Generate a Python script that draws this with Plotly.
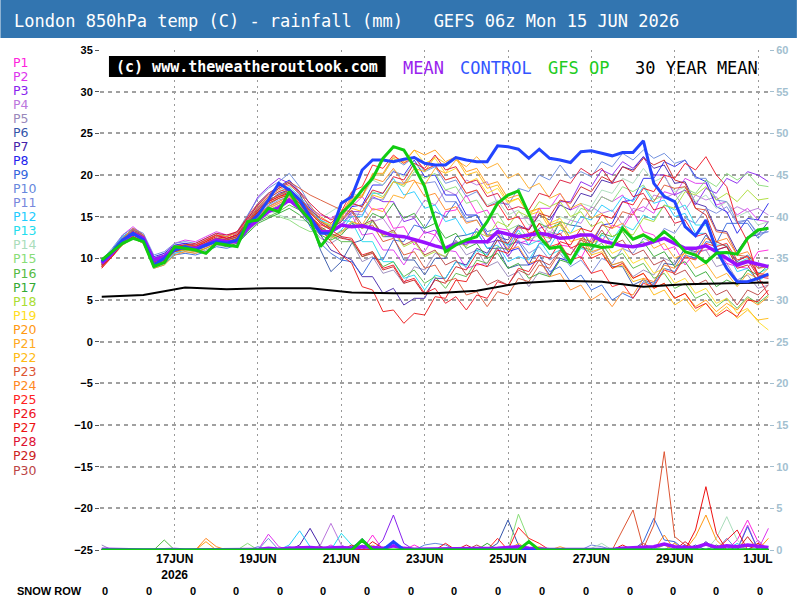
import plotly.graph_objects as go
import pandas as pd

# ---------------- data ----------------
run_start = "2026-06-15 06:00"
n_steps = 65
times = pd.date_range(run_start, periods=n_steps, freq="6h")
clim_times = pd.date_range(run_start, periods=17, freq="1D")

mean_temp = [9.4, 10.6, 12.0, 13.0, 12.4, 9.8, 10.2, 11.2,
             11.2, 11.2, 11.6, 12.2, 12.0, 12.0, 13.6, 14.6,
             15.6, 16.1, 17.0, 16.0, 14.6, 13.2, 13.2, 14.0,
             13.8, 13.9, 13.6, 13.2, 12.7, 12.6, 12.3, 11.9,
             11.5, 11.2, 11.7, 12.0, 12.0, 12.0, 13.2, 12.9,
             12.6, 12.8, 13.0, 12.8, 12.4, 12.5, 12.8, 12.8,
             12.1, 11.8, 11.5, 11.4, 11.6, 12.0, 12.4, 11.8,
             11.2, 11.2, 11.5, 10.8, 10.0, 9.2, 9.6, 9.3, 9.0]

control_temp = [9.6, 10.8, 12.2, 13.0, 12.2, 9.2, 10.0, 11.0,
                11.4, 11.0, 11.6, 12.0, 11.8, 12.2, 14.0, 15.2,
                17.0, 19.0, 18.2, 17.0, 15.0, 13.0, 13.0, 16.6,
                17.4, 20.6, 21.8, 21.8, 21.6, 21.9, 22.1, 21.4,
                21.2, 21.2, 22.1, 21.8, 21.6, 21.6, 23.5, 23.4,
                23.1, 22.0, 23.1, 22.0, 21.8, 21.5, 22.8, 22.9,
                22.6, 22.3, 22.7, 22.7, 24.1, 19.0, 17.4, 16.8,
                13.8, 12.7, 14.6, 11.0, 8.8, 7.2, 7.2, 7.6, 8.1]

gfs_op_temp = [9.8, 10.8, 11.8, 12.4, 12.0, 9.0, 9.5, 11.4,
               11.2, 11.0, 10.6, 11.8, 11.6, 11.4, 14.4, 14.6,
               16.0, 15.6, 18.0, 16.0, 14.6, 11.4, 13.0, 15.4,
               16.6, 18.2, 19.6, 22.0, 23.4, 23.0, 21.0, 18.6,
               14.5, 10.8, 11.6, 12.2, 12.6, 14.4, 16.6, 17.6,
               18.1, 15.4, 12.6, 11.2, 11.4, 9.5, 11.7, 11.6,
               11.3, 11.4, 13.6, 12.3, 12.8, 12.1, 13.2, 12.2,
               10.8, 10.4, 9.5, 10.6, 10.7, 10.5, 12.4, 13.4, 13.6]

clim_temp = [5.4, 5.6, 6.5, 6.3, 6.4, 6.4, 5.9, 5.8, 5.8,
             6.1, 7.0, 7.3, 7.2, 6.6, 6.9, 7.0, 7.1]

p01 = [9.0, 10.5, 12.3, 13.5, 12.6, 9.6, 10.4, 11.5, 11.8, 11.4, 12.0, 12.8, 12.2, 12.6, 14.2, 15.0,
       16.0, 16.6, 17.2, 16.4, 15.0, 14.0, 13.6, 14.6, 16.2, 17.4, 15.8, 16.0, 13.6, 13.8, 11.6, 13.2,
       12.8, 15.6, 15.8, 17.6, 15.4, 15.8, 13.6, 13.4, 11.8, 12.2, 12.0, 14.2, 11.6, 11.4, 10.0, 12.4,
       12.0, 14.0, 13.6, 15.6, 13.2, 12.8, 11.0, 11.4, 9.2, 10.8, 11.0, 11.2, 9.4, 9.0, 8.8, 10.8, 11.0]
p02 = [9.6, 11.0, 12.8, 13.8, 12.8, 10.0, 10.6, 11.8, 12.2, 12.0, 12.6, 13.2, 12.8, 13.0, 14.8, 16.0,
       17.0, 17.6, 18.4, 17.2, 16.0, 15.2, 14.8, 15.6, 15.2, 12.8, 13.0, 11.0, 11.0, 9.2, 11.2, 10.8,
       12.8, 11.0, 10.8, 8.8, 9.2, 9.4, 11.2, 11.2, 13.6, 13.6, 16.0, 16.0, 17.8, 15.8, 16.4, 15.6,
       17.4, 16.8, 17.6, 15.6, 16.2, 15.4, 18.0, 17.6, 19.6, 19.0, 19.0, 16.4, 16.8, 15.2, 16.0, 14.6, 14.4]
p03 = [9.4, 10.6, 12.0, 12.8, 12.4, 9.6, 10.0, 11.0, 11.4, 11.6, 12.0, 12.4, 12.2, 13.0, 15.0, 17.4,
       18.6, 19.6, 19.0, 17.6, 15.6, 14.2, 13.4, 14.0, 15.6, 15.6, 17.4, 16.8, 16.8, 14.4, 14.8, 13.0,
       13.4, 11.4, 12.0, 11.6, 13.6, 11.8, 12.2, 10.2, 12.0, 11.6, 13.6, 14.0, 16.8, 16.8, 19.2, 18.6,
       20.6, 20.0, 21.6, 20.8, 22.2, 20.0, 20.0, 17.6, 18.2, 16.4, 18.4, 17.8, 19.6, 19.0, 20.4, 20.0, 19.2]
p04 = [9.2, 10.4, 11.8, 12.8, 12.0, 9.4, 9.8, 10.8, 11.2, 11.0, 11.4, 12.0, 11.8, 12.4, 14.0, 15.4,
       16.2, 16.8, 17.6, 16.6, 15.2, 13.6, 12.6, 13.2, 13.8, 16.2, 14.4, 14.8, 13.0, 15.0, 15.0, 17.0,
       16.4, 18.2, 17.6, 19.4, 18.8, 19.2, 16.6, 16.6, 14.8, 14.8, 12.4, 13.2, 12.8, 14.6, 14.2, 16.2,
       15.4, 15.8, 14.0, 16.0, 15.6, 17.6, 17.2, 17.8, 15.8, 17.6, 17.0, 17.4, 15.4, 16.2, 15.6, 16.0, 15.2]
p05 = [9.0, 10.2, 11.6, 12.4, 11.8, 9.2, 9.6, 10.6, 10.8, 10.6, 11.0, 11.6, 11.4, 11.8, 13.4, 14.8,
       15.6, 16.2, 16.8, 15.8, 14.0, 12.4, 11.8, 12.6, 12.0, 9.6, 10.2, 8.2, 8.6, 7.0, 9.0, 8.6,
       10.6, 10.2, 12.2, 10.4, 11.0, 9.0, 9.6, 7.8, 8.4, 6.6, 8.4, 8.0, 10.0, 9.6, 11.4, 10.6,
       11.2, 9.2, 9.6, 7.8, 8.6, 8.0, 10.0, 9.4, 11.2, 10.6, 11.0, 9.0, 9.4, 7.4, 8.0, 6.4, 6.8]
p06 = [9.6, 10.8, 12.2, 13.2, 12.6, 10.0, 10.4, 11.4, 11.6, 11.2, 11.8, 12.4, 12.0, 12.4, 14.4, 16.2,
       17.4, 18.4, 19.2, 17.8, 14.6, 11.0, 8.4, 9.6, 11.8, 12.2, 14.6, 12.6, 12.6, 9.8, 9.8, 8.0,
       10.0, 10.0, 12.6, 12.8, 13.2, 11.2, 11.2, 8.8, 9.2, 9.2, 11.8, 12.0, 14.4, 14.0, 13.8, 11.4,
       11.4, 9.0, 9.0, 6.8, 7.4, 7.0, 9.4, 9.2, 11.2, 10.8, 12.8, 11.0, 11.4, 9.6, 10.4, 8.8, 9.2]
p07 = [9.2, 10.6, 12.4, 13.6, 12.8, 9.8, 10.2, 11.2, 11.4, 11.2, 11.6, 12.0, 11.8, 12.2, 13.8, 15.6,
       16.8, 17.8, 18.2, 16.8, 14.6, 12.8, 11.0, 10.4, 9.8, 7.8, 7.8, 5.8, 6.4, 4.4, 5.2, 5.2,
       7.6, 7.6, 9.6, 9.2, 11.2, 10.6, 12.6, 12.2, 14.0, 13.4, 15.2, 14.6, 16.4, 15.8, 17.8, 17.4,
       19.4, 19.0, 21.0, 20.6, 22.2, 20.8, 21.2, 19.0, 19.2, 16.6, 16.2, 13.4, 13.2, 10.8, 12.6, 12.8, 14.4]
p08 = [9.8, 11.0, 12.6, 13.4, 12.8, 10.2, 10.6, 11.6, 11.8, 11.6, 12.2, 12.8, 12.4, 12.8, 14.6, 16.6,
       17.8, 18.6, 19.4, 18.0, 16.0, 14.6, 13.6, 14.4, 16.2, 16.4, 18.8, 18.8, 20.4, 20.0, 21.8, 19.8,
       20.0, 17.6, 17.6, 15.2, 15.2, 12.8, 12.8, 10.8, 11.2, 9.2, 9.8, 8.0, 10.0, 9.6, 11.6, 11.6,
       14.0, 14.2, 16.8, 17.0, 19.6, 19.6, 21.6, 21.0, 21.8, 19.8, 19.2, 16.2, 15.6, 13.0, 14.8, 14.6, 16.6]
p09 = [9.4, 10.4, 11.8, 12.6, 12.0, 9.0, 9.4, 10.4, 10.6, 10.4, 10.8, 11.4, 11.2, 11.6, 13.2, 15.0,
       16.4, 17.2, 17.8, 16.2, 13.8, 11.8, 10.6, 9.8, 9.6, 8.0, 10.0, 9.8, 12.2, 12.0, 14.0, 13.6,
       15.6, 15.0, 16.8, 14.8, 15.2, 13.2, 13.6, 11.6, 12.0, 10.0, 10.4, 8.4, 9.0, 7.2, 8.0, 6.2,
       6.8, 5.0, 5.8, 5.2, 7.2, 6.8, 8.8, 8.4, 10.4, 10.0, 12.0, 11.8, 14.2, 14.2, 14.2, 12.4, 13.6]
p10 = [9.8, 11.2, 12.8, 13.6, 13.0, 10.4, 10.8, 11.8, 12.0, 11.8, 12.4, 13.0, 12.6, 13.2, 15.2, 17.2,
       18.4, 19.2, 20.2, 18.6, 16.4, 14.6, 13.8, 15.0, 17.2, 17.4, 20.0, 20.0, 22.0, 21.2, 22.2, 20.4,
       21.0, 19.0, 19.4, 17.4, 18.0, 16.2, 16.8, 16.4, 18.4, 18.0, 20.0, 19.4, 21.2, 19.6, 20.4, 19.8,
       21.6, 21.0, 22.6, 21.8, 23.0, 22.0, 22.6, 21.4, 21.8, 19.6, 19.6, 17.0, 16.8, 14.4, 14.6, 13.0, 13.2]
p11 = [9.4, 10.8, 12.4, 13.2, 12.6, 9.6, 10.0, 11.0, 11.2, 11.0, 11.4, 12.0, 11.6, 12.0, 13.6, 15.2,
       16.2, 17.0, 17.4, 16.2, 14.8, 13.6, 13.0, 13.8, 15.4, 15.2, 17.2, 17.0, 19.2, 19.0, 20.8, 19.0,
       19.2, 16.8, 16.8, 14.4, 14.6, 12.6, 13.2, 11.4, 12.2, 10.6, 11.4, 9.8, 10.6, 9.0, 9.8, 8.2,
       10.0, 9.4, 11.2, 10.6, 12.4, 11.8, 13.6, 13.0, 14.8, 14.2, 16.0, 15.4, 16.2, 14.2, 14.6, 12.8, 13.2]
p12 = [9.2, 10.6, 12.0, 13.2, 12.2, 8.8, 9.2, 10.6, 11.0, 11.2, 11.8, 12.2, 12.0, 12.4, 14.2, 15.8,
       17.0, 17.6, 18.0, 16.6, 14.6, 13.2, 12.4, 13.4, 15.0, 15.0, 17.8, 17.8, 19.6, 17.6, 18.0, 16.0,
       16.4, 14.4, 14.8, 12.8, 13.2, 11.2, 11.6, 9.6, 10.2, 9.8, 11.8, 11.4, 13.4, 13.0, 15.0, 14.6,
       16.4, 15.6, 17.4, 16.8, 18.6, 16.6, 17.0, 15.0, 15.4, 13.0, 13.0, 10.8, 10.8, 8.4, 8.8, 7.2, 8.2]
p13 = [9.6, 11.0, 12.6, 13.4, 12.6, 9.8, 10.2, 11.2, 11.4, 11.2, 11.8, 12.4, 12.2, 12.6, 14.4, 16.0,
       17.2, 18.0, 18.6, 17.4, 15.8, 14.6, 14.0, 14.6, 14.4, 12.0, 12.0, 9.6, 9.6, 7.6, 8.0, 6.2,
       8.0, 7.6, 9.6, 9.0, 11.0, 10.4, 12.2, 11.6, 13.4, 11.6, 12.2, 10.4, 11.0, 9.2, 11.2, 10.8,
       12.8, 12.2, 14.0, 13.4, 15.2, 14.6, 16.4, 15.8, 16.4, 14.0, 14.0, 11.6, 11.6, 9.4, 10.0, 8.2, 8.8]
p14 = [9.4, 10.6, 12.0, 12.8, 12.2, 9.4, 9.8, 11.2, 11.4, 11.6, 12.0, 12.6, 12.2, 12.6, 14.0, 15.0,
       15.8, 15.2, 14.8, 14.6, 14.4, 14.8, 15.6, 16.4, 17.8, 17.4, 19.4, 18.8, 20.6, 19.8, 21.4, 20.4,
       21.2, 19.4, 19.8, 17.8, 18.2, 16.4, 17.0, 15.2, 15.8, 14.0, 14.6, 13.0, 15.0, 14.6, 16.6, 16.2,
       18.2, 17.8, 19.6, 19.0, 20.8, 19.2, 19.8, 18.0, 18.6, 16.8, 17.6, 16.0, 16.8, 15.0, 15.6, 14.0, 14.4]
p15 = [9.6, 10.8, 12.2, 13.0, 12.4, 9.6, 10.0, 11.4, 11.6, 11.4, 11.8, 12.4, 12.0, 12.4, 13.4, 14.6,
       15.2, 15.0, 14.6, 13.8, 13.2, 13.4, 14.0, 15.0, 16.6, 16.2, 18.0, 17.4, 19.2, 18.6, 20.4, 19.6,
       20.2, 18.2, 18.6, 16.6, 17.0, 15.0, 15.4, 13.4, 14.0, 12.2, 12.8, 12.4, 14.4, 14.0, 16.0, 15.6,
       17.4, 16.8, 18.6, 18.0, 18.8, 17.0, 17.6, 16.8, 18.4, 17.8, 19.4, 18.6, 20.2, 19.4, 20.2, 18.8, 18.6]
p16 = [9.8, 11.0, 12.4, 13.2, 12.4, 9.8, 10.2, 11.4, 11.6, 11.4, 11.8, 12.2, 11.8, 12.0, 13.2, 14.4,
       15.0, 15.6, 16.4, 15.8, 14.6, 13.6, 12.8, 12.0, 12.0, 10.2, 10.8, 9.0, 9.6, 7.8, 8.6, 7.0,
       7.8, 6.4, 8.2, 7.8, 9.8, 9.4, 11.4, 11.0, 13.0, 12.4, 14.2, 13.6, 14.2, 12.4, 13.0, 11.2,
       11.8, 10.0, 10.6, 8.8, 9.4, 7.6, 8.2, 6.4, 7.0, 5.2, 5.8, 4.2, 5.2, 4.0, 5.4, 4.6, 5.6]
p17 = [9.2, 10.4, 11.8, 12.6, 12.0, 9.2, 9.6, 10.8, 11.0, 10.8, 11.2, 11.8, 11.4, 11.8, 13.0, 14.2,
       14.8, 15.4, 16.0, 15.2, 14.0, 12.8, 12.2, 12.8, 14.2, 13.6, 15.4, 14.8, 16.6, 14.8, 15.4, 13.6,
       14.2, 12.4, 13.0, 11.2, 11.8, 10.0, 10.6, 8.8, 9.4, 7.6, 8.2, 7.8, 9.8, 9.4, 11.4, 11.0,
       13.0, 12.6, 13.2, 11.4, 12.0, 10.2, 10.8, 9.0, 9.6, 7.8, 8.4, 6.6, 7.4, 6.8, 8.6, 8.0, 9.2]
p18 = [9.6, 10.8, 12.2, 13.0, 12.4, 9.6, 10.0, 11.2, 11.4, 11.2, 11.6, 12.0, 11.8, 12.2, 13.6, 15.0,
       15.8, 16.4, 17.0, 16.0, 14.8, 13.4, 12.6, 13.2, 14.4, 13.8, 14.4, 12.6, 13.2, 11.4, 12.0, 10.2,
       10.8, 10.2, 12.0, 11.4, 13.2, 12.6, 14.4, 13.8, 15.6, 15.0, 16.8, 16.2, 16.8, 15.0, 15.6, 13.8,
       14.4, 12.6, 13.2, 12.8, 14.8, 14.4, 16.4, 16.0, 18.0, 17.6, 18.6, 17.0, 17.8, 16.8, 18.2, 17.0, 17.2]
p19 = [9.4, 10.6, 12.0, 13.0, 12.4, 9.4, 9.8, 11.0, 11.2, 11.0, 11.6, 12.2, 12.0, 12.4, 14.0, 15.6,
       16.6, 17.2, 17.8, 16.8, 15.4, 14.4, 14.0, 15.2, 17.2, 17.4, 20.0, 20.0, 22.0, 21.4, 23.0, 21.4,
       22.0, 20.2, 20.8, 19.0, 19.6, 17.8, 18.4, 16.6, 17.2, 15.4, 16.0, 14.2, 14.8, 13.0, 13.6, 11.8,
       12.4, 10.6, 11.2, 9.4, 10.0, 8.2, 8.8, 7.0, 7.6, 5.8, 6.4, 4.6, 5.2, 3.4, 4.0, 2.4, 1.4]
p20 = [9.0, 10.2, 11.6, 12.4, 11.8, 8.8, 9.2, 10.4, 10.8, 10.6, 11.2, 11.8, 11.6, 12.0, 13.6, 15.2,
       16.2, 16.8, 17.4, 16.4, 15.0, 14.0, 13.6, 14.8, 17.0, 17.4, 20.2, 20.2, 22.2, 21.6, 23.0, 22.4,
       23.0, 21.6, 22.2, 20.4, 20.8, 18.8, 19.2, 17.2, 17.6, 15.6, 16.0, 14.0, 14.4, 12.4, 12.8, 10.8,
       11.2, 9.2, 9.6, 7.6, 8.2, 6.4, 7.0, 5.2, 5.8, 4.2, 5.0, 3.6, 4.6, 3.8, 5.2, 4.4, 5.4]
p21 = [9.2, 10.4, 11.8, 12.8, 12.0, 9.2, 9.6, 10.8, 11.0, 10.8, 11.4, 12.0, 11.8, 12.2, 13.8, 15.2,
       16.0, 16.6, 17.2, 16.2, 14.8, 13.2, 12.4, 13.0, 14.4, 14.0, 16.0, 15.6, 17.6, 17.2, 19.2, 18.8,
       20.8, 20.2, 21.8, 21.0, 22.2, 20.8, 21.4, 19.6, 20.2, 18.4, 19.0, 17.2, 17.8, 16.0, 16.6, 14.8,
       15.4, 13.6, 14.2, 12.4, 13.0, 11.2, 11.8, 10.0, 10.6, 8.8, 9.4, 7.6, 8.2, 6.6, 8.2, 7.6, 8.8]
p22 = [9.6, 10.8, 12.4, 13.2, 12.6, 9.6, 10.0, 11.2, 11.4, 11.2, 11.8, 12.4, 12.2, 12.6, 14.2, 15.8,
       17.0, 17.6, 18.2, 17.0, 15.6, 14.4, 13.8, 14.6, 16.0, 15.6, 17.6, 17.2, 19.2, 18.8, 20.8, 20.4,
       22.2, 21.4, 22.0, 20.0, 20.4, 18.4, 18.8, 16.8, 17.2, 15.2, 15.6, 13.6, 14.0, 12.0, 12.4, 10.4,
       10.8, 8.8, 9.2, 7.2, 7.6, 5.6, 6.2, 4.4, 5.2, 3.6, 4.6, 3.2, 4.2, 2.8, 3.8, 2.6, 2.8]
p23 = [9.2, 10.6, 12.2, 13.4, 12.6, 9.4, 9.8, 11.0, 11.2, 11.4, 12.0, 12.8, 12.6, 13.2, 15.0, 16.6,
       17.8, 18.6, 19.2, 18.4, 17.6, 17.0, 16.4, 15.8, 15.6, 13.6, 14.0, 12.0, 12.4, 10.4, 10.8, 8.8,
       9.2, 7.2, 7.6, 5.6, 6.0, 4.2, 6.0, 5.6, 7.6, 7.2, 9.2, 8.8, 10.8, 10.4, 12.4, 12.0,
       14.0, 13.6, 15.6, 15.2, 17.2, 16.8, 18.8, 18.4, 18.6, 16.0, 15.8, 13.2, 13.0, 10.4, 10.2, 8.0, 7.8]
p24 = [9.4, 10.8, 12.4, 13.6, 12.8, 9.8, 10.2, 11.4, 11.6, 11.6, 12.2, 12.8, 12.6, 13.0, 14.6, 16.2,
       17.4, 18.2, 18.8, 17.8, 16.2, 15.0, 14.2, 15.4, 17.4, 17.6, 19.6, 19.2, 20.8, 19.0, 19.4, 17.4,
       17.8, 15.8, 16.2, 14.2, 14.6, 12.6, 13.0, 11.0, 11.4, 9.4, 9.8, 7.8, 8.2, 6.2, 6.8, 5.0,
       5.8, 4.2, 6.0, 5.6, 7.6, 7.2, 9.2, 8.8, 10.8, 10.4, 12.4, 12.0, 12.4, 10.4, 10.8, 8.8, 9.0]
p25 = [9.0, 10.2, 11.8, 12.8, 12.2, 9.4, 9.8, 11.0, 11.4, 11.6, 12.2, 12.8, 12.4, 12.8, 14.4, 16.0,
       17.2, 18.0, 18.4, 17.2, 15.8, 14.8, 14.2, 15.6, 18.0, 18.6, 21.2, 20.8, 22.4, 21.4, 22.2, 20.6,
       21.2, 19.4, 19.8, 17.8, 18.2, 16.2, 16.6, 14.6, 15.0, 13.0, 13.4, 11.4, 11.8, 9.8, 10.2, 8.2,
       8.6, 6.6, 7.0, 5.2, 7.0, 6.6, 8.6, 8.2, 10.2, 9.8, 11.8, 11.4, 11.8, 9.8, 10.2, 8.2, 8.0]
p26 = [9.2, 10.4, 12.0, 13.0, 12.4, 9.6, 10.0, 11.2, 11.4, 11.2, 11.8, 12.4, 12.2, 12.6, 14.0, 15.6,
       16.8, 17.4, 18.0, 17.0, 15.4, 14.2, 13.4, 12.6, 12.4, 10.4, 10.8, 8.8, 9.2, 7.2, 7.6, 5.8,
       6.4, 4.6, 5.4, 3.8, 5.6, 5.2, 7.2, 6.8, 8.8, 8.4, 10.4, 10.0, 12.0, 11.6, 13.6, 13.2,
       15.2, 14.8, 16.8, 16.4, 18.4, 18.0, 20.0, 19.6, 21.4, 20.6, 22.2, 20.0, 18.6, 14.4, 12.0, 7.8, 5.6]
p27 = [8.8, 10.2, 11.8, 12.6, 12.0, 9.2, 9.6, 10.8, 11.2, 11.4, 12.0, 12.6, 12.4, 12.8, 14.2, 15.8,
       16.8, 17.4, 17.8, 16.8, 15.2, 13.6, 12.0, 10.4, 9.4, 6.6, 6.2, 3.6, 3.8, 2.2, 3.4, 3.2,
       5.4, 5.2, 7.4, 7.2, 9.4, 9.0, 11.0, 10.6, 12.6, 12.2, 14.2, 12.4, 13.0, 11.2, 11.8, 10.0,
       10.6, 8.8, 9.4, 7.6, 8.2, 6.4, 7.0, 5.2, 5.8, 4.0, 4.6, 3.0, 3.8, 3.0, 5.0, 4.8, 6.2]
p28 = [9.4, 10.6, 12.2, 13.2, 12.6, 9.8, 10.2, 11.4, 11.6, 11.8, 12.4, 13.0, 12.8, 13.2, 14.8, 16.4,
       17.6, 18.4, 19.0, 18.0, 16.6, 15.4, 14.6, 15.2, 16.6, 16.2, 18.2, 17.8, 19.8, 19.4, 21.4, 20.8,
       22.4, 20.6, 21.0, 19.0, 19.4, 17.4, 17.8, 15.8, 16.2, 15.8, 17.8, 17.4, 19.4, 19.0, 20.8, 20.0,
       20.8, 19.0, 19.4, 17.4, 17.8, 15.8, 16.2, 14.2, 14.6, 12.6, 13.0, 11.0, 11.4, 9.4, 9.8, 7.8, 7.6]
p29 = [9.0, 10.4, 12.0, 13.2, 12.4, 9.4, 9.8, 11.0, 11.2, 11.0, 11.6, 12.2, 12.0, 12.4, 14.0, 15.6,
       16.6, 17.2, 17.6, 16.6, 15.0, 13.8, 13.0, 12.4, 12.2, 10.2, 10.6, 8.6, 9.0, 7.0, 7.4, 5.6,
       7.4, 7.0, 9.0, 8.6, 10.6, 10.2, 12.2, 11.8, 13.8, 13.4, 15.4, 15.0, 17.0, 16.6, 18.6, 18.0,
       19.8, 19.2, 21.0, 20.4, 22.0, 21.2, 21.8, 19.4, 19.0, 16.0, 15.2, 12.0, 11.4, 8.8, 9.2, 7.2, 7.0]
p30 = [9.2, 10.6, 12.2, 13.2, 12.4, 9.6, 10.0, 11.2, 11.4, 11.2, 11.8, 12.4, 12.2, 12.6, 14.2, 15.8,
       17.0, 17.6, 18.2, 17.2, 15.6, 14.4, 13.6, 14.4, 15.8, 14.0, 14.6, 12.8, 13.4, 11.6, 12.2, 10.4,
       11.0, 9.2, 9.8, 8.0, 8.6, 6.8, 7.4, 6.8, 8.6, 8.0, 9.8, 9.2, 11.0, 10.4, 12.2, 11.6,
       13.4, 11.6, 12.2, 10.4, 11.0, 9.2, 9.8, 8.0, 8.6, 6.8, 7.4, 5.6, 6.2, 4.4, 6.2, 5.6, 6.8]

member_temps = [p01, p02, p03, p04, p05, p06, p07, p08, p09, p10,
                p11, p12, p13, p14, p15, p16, p17, p18, p19, p20,
                p21, p22, p23, p24, p25, p26, p27, p28, p29, p30]

member_names = ["P%d" % k for k in range(1, 31)]
member_colors = ["#ff22dd", "#dd33ee", "#8822ee", "#bb77dd", "#9988bb",
                 "#3355aa", "#4422aa", "#2222ee", "#3366dd", "#6688dd",
                 "#7788dd", "#22ccff", "#22ddee", "#aaddbb", "#88dd77",
                 "#55bb44", "#33aa33", "#aadd33", "#ffdd22", "#ff9911",
                 "#ffaa22", "#ffbb11", "#dd5533", "#ff8822", "#ff2222",
                 "#ee1122", "#ee1111", "#dd1133", "#cc2222", "#bb4444"]

# rainfall (mm per 6 h) events: {step index: mm}, zero elsewhere
member_rain_events = [
    {26: 1.8, 30: 0.6, 61: 1.2, 62: 3.6, 63: 1.0},
    {16: 1.9, 17: 0.4, 22: 0.6, 62: 3.0, 64: 2.6},
    {27: 1.2, 28: 4.2, 29: 0.8, 60: 0.4},
    {21: 0.6, 22: 3.2, 23: 0.6, 63: 1.2},
    {0: 0.6, 18: 0.4, 55: 0.8},
    {38: 0.8, 39: 3.6, 40: 0.6, 57: 0.6},
    {19: 0.6, 20: 2.6, 21: 0.4, 58: 1.0},
    {24: 0.4, 25: 1.0, 56: 0.6},
    {52: 1.0, 53: 3.8, 54: 1.2, 55: 1.0, 62: 2.8},
    {15: 0.4, 31: 0.6, 32: 0.8, 33: 0.6, 60: 1.4},
    {16: 1.4, 47: 0.6, 48: 0.4},
    {18: 0.6, 19: 2.3, 20: 0.4, 61: 0.8},
    {23: 2.0, 24: 0.6, 64: 0.4},
    {47: 0.2, 48: 0.8, 59: 1.4, 60: 4.0, 61: 1.2},
    {14: 0.8, 40: 4.3, 41: 1.2},
    {6: 1.2, 25: 0.6},
    {37: 0.8, 59: 0.6},
    {54: 0.6, 63: 0.8},
    {26: 0.6, 61: 0.6},
    {10: 1.0, 57: 1.6, 58: 4.2, 59: 1.2, 64: 1.4},
    {40: 0.8, 44: 0.4, 55: 0.8},
    {42: 0.4, 63: 0.6},
    {50: 2.4, 51: 4.8, 52: 0.2, 53: 3.0, 54: 11.8, 55: 1.6, 56: 0.6},
    {10: 1.4, 11: 0.4, 54: 1.8},
    {23: 0.4, 38: 1.4, 40: 2.7, 41: 1.4, 42: 0.8},
    {19: 0.4, 26: 1.0, 27: 0.2, 33: 0.8, 60: 1.2, 61: 2.4},
    {17: 0.2, 50: 0.6, 57: 2.4, 58: 7.6, 59: 2.0, 63: 0.8},
    {21: 0.4, 35: 0.6, 56: 1.0},
    {24: 0.6, 62: 1.6},
    {36: 0.6, 52: 0.8},
]

mean_rain = [0.1, 0.05, 0, 0, 0, 0, 0.05, 0.05, 0, 0, 0.1, 0.05, 0, 0, 0.05, 0.05,
             0.2, 0.1, 0.2, 0.3, 0.3, 0.2, 0.3, 0.3, 0.2, 0.4, 0.3, 0.2, 0.5, 0.2, 0.1, 0.1,
             0.1, 0.1, 0.1, 0.1, 0.1, 0.1, 0.2, 0.3, 0.4, 0.2, 0.1, 0.05, 0.05, 0.05, 0.05, 0.1,
             0.1, 0.05, 0.2, 0.3, 0.3, 0.4, 0.7, 0.4, 0.3, 0.3, 0.7, 0.3, 0.5, 0.4, 0.6, 0.5, 0.3]
control_rain_events = {25: 1.2, 28: 1.0}
gfs_op_rain_events = {25: 1.2, 41: 1.0}

tick_dates = ["2026-06-17", "2026-06-19", "2026-06-21", "2026-06-23",
              "2026-06-25", "2026-06-27", "2026-06-29", "2026-07-01"]
tick_labels = ["17JUN<br>2026", "19JUN", "21JUN", "23JUN",
               "25JUN", "27JUN", "29JUN", "1JUL"]
snow_row = [0, 0, 0, 0, 0, 0, 0, 0, 0, 0, 0, 0, 0, 0, 0, 0]

title_text = "London 850hPa temp (C) - rainfall (mm)   GEFS 06z Mon 15 JUN 2026"

# ---------------- layout helpers ----------------
W, H = 800, 600
ML, MR, MT, MB = 100, 28, 50, 50
PW, PH = W - ML - MR, H - MT - MB


def px2x(px):
    return (px - ML) / PW


def py2y(py):
    return (H - MB - py) / PH


def expand(events):
    return [events.get(i, 0) for i in range(n_steps)]


fig = go.Figure()

# rainfall (right axis)
for name, col, ev in zip(member_names, member_colors, member_rain_events):
    fig.add_trace(go.Scatter(x=times, y=expand(ev), yaxis="y2", mode="lines",
                             line=dict(color=col, width=1), name=name + " rain",
                             showlegend=False, hoverinfo="skip"))
fig.add_trace(go.Scatter(x=times, y=mean_rain, yaxis="y2", mode="lines",
                         line=dict(color="#9911ff", width=3.5), showlegend=False))
fig.add_trace(go.Scatter(x=times, y=expand(control_rain_events), yaxis="y2", mode="lines",
                         line=dict(color="#2244ff", width=3), showlegend=False))
fig.add_trace(go.Scatter(x=times, y=expand(gfs_op_rain_events), yaxis="y2", mode="lines",
                         line=dict(color="#11cc11", width=3), showlegend=False))

# temperatures (left axis)
for name, col, vals in zip(member_names, member_colors, member_temps):
    fig.add_trace(go.Scatter(x=times, y=vals, mode="lines",
                             line=dict(color=col, width=1), name=name,
                             showlegend=False, opacity=0.9))
fig.add_trace(go.Scatter(x=clim_times, y=clim_temp, mode="lines",
                         line=dict(color="black", width=2), showlegend=False))
fig.add_trace(go.Scatter(x=times, y=mean_temp, mode="lines",
                         line=dict(color="#9911ff", width=3.5), showlegend=False))
fig.add_trace(go.Scatter(x=times, y=control_temp, mode="lines",
                         line=dict(color="#2244ff", width=3), showlegend=False))
fig.add_trace(go.Scatter(x=times, y=gfs_op_temp, mode="lines",
                         line=dict(color="#11cc11", width=3), showlegend=False))

tick_font = dict(family="Liberation Sans", size=11, color="black", weight="bold")

annotations = [
    dict(text=title_text, x=px2x(12), y=py2y(21), xref="paper", yref="paper",
         xanchor="left", yanchor="middle", showarrow=False,
         font=dict(family="DejaVu Sans Mono", size=17, color="white")),
    dict(text="(c) www.theweatheroutlook.com", x=px2x(248), y=py2y(66.5),
         xref="paper", yref="paper", xanchor="center", yanchor="middle", showarrow=False,
         font=dict(family="DejaVu Sans Mono", size=15, color="white", weight="bold")),
]
for txt, col, xp in [("MEAN", "#9922ee", 402), ("CONTROL", "#3355ff", 460),
                     ("GFS OP", "#22cc22", 548), ("30 YEAR MEAN", "black", 635)]:
    annotations.append(dict(text=txt, x=px2x(xp), y=py2y(68), xref="paper", yref="paper",
                            xanchor="left", yanchor="middle", showarrow=False,
                            font=dict(family="DejaVu Sans Mono", size=17, color=col)))
for k, (name, col) in enumerate(zip(member_names, member_colors)):
    annotations.append(dict(text=name, x=px2x(12), y=py2y(62 + 14.07 * k),
                            xref="paper", yref="paper", xanchor="left", yanchor="middle",
                            showarrow=False, borderpad=0,
                            font=dict(family="DejaVu Sans", size=12.5, color=col)))
annotations.append(dict(text="SNOW ROW", x=px2x(15), y=py2y(591), xref="paper", yref="paper",
                        xanchor="left", yanchor="middle", showarrow=False, font=tick_font))
snow_px = [105, 149, 193, 237, 281, 324, 368, 412, 456, 500, 544, 588, 632, 676, 719, 763]
for v, xp in zip(snow_row, snow_px):
    annotations.append(dict(text=str(v), x=px2x(xp), y=py2y(591), xref="paper", yref="paper",
                            xanchor="center", yanchor="middle", showarrow=False, font=tick_font))

shapes = [
    dict(type="rect", xref="paper", yref="paper", x0=px2x(0), x1=px2x(800),
         y0=py2y(38), y1=py2y(0), fillcolor="#3275b0", line=dict(width=0), layer="below"),
    dict(type="rect", xref="paper", yref="paper", x0=px2x(109), x1=px2x(387),
         y0=py2y(77), y1=py2y(56), fillcolor="black", line=dict(width=0), layer="above"),
]

fig.update_layout(
    width=W, height=H,
    margin=dict(l=ML, r=MR, t=MT, b=MB, pad=0),
    paper_bgcolor="white", plot_bgcolor="white",
    showlegend=False,
    xaxis=dict(type="date", range=["2026-06-15 05:00", "2026-07-01 06:20"],
               tickvals=tick_dates, ticktext=tick_labels,
               tickfont=dict(family="Liberation Sans", size=12, color="black", weight="bold"),
               showgrid=True, gridcolor="#999999", griddash="2px,4px", gridwidth=1,
               ticks="", showline=False, zeroline=False),
    yaxis=dict(range=[-25, 35], tickvals=list(range(-25, 40, 5)), tickfont=tick_font,
               showgrid=True, gridcolor="#a0a0a0", griddash="4px,4px", gridwidth=1.5,
               ticks="outside", ticklen=4, tickcolor="#555555", zeroline=False, showline=False),
    yaxis2=dict(range=[0, 60], tickvals=list(range(0, 65, 5)), overlaying="y", side="right",
                tickfont=dict(family="Liberation Sans", size=11, color="#a3bfd0", weight="bold"),
                showgrid=False, ticks="outside", ticklen=4, tickcolor="#a3bfd0",
                zeroline=False, showline=False),
    annotations=annotations,
    shapes=shapes,
)

fig.write_html("out.html")
